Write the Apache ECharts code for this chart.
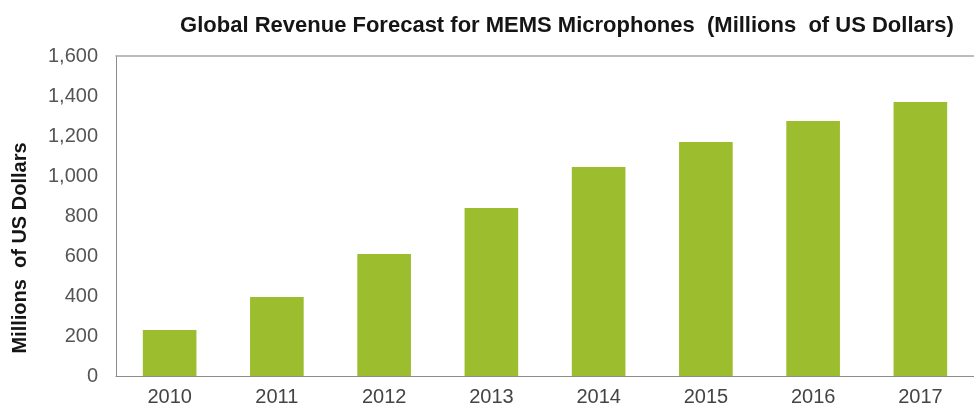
<!DOCTYPE html>
<html>
<head>
<meta charset="utf-8">
<script src="https://cdn.jsdelivr.net/npm/echarts@6/dist/echarts.min.js"></script>
<style>
html,body{margin:0;padding:0;background:#fff;}
#chart{width:974px;height:410px;}
</style>
</head>
<body>
<div id="chart"></div>
<script>
const titleText = 'Global Revenue Forecast for MEMS Microphones  (Millions  of US Dollars)';
const yAxisTitle = 'Millions  of US Dollars';
const years = ['2010','2011','2012','2013','2014','2015','2016','2017'];
const revenue = [230, 395, 610, 840, 1045, 1170, 1275, 1370];
const yMin = 0, yMax = 1600, yStep = 200;

const FONT = 'Liberation Sans, Arial, sans-serif';
const chart = echarts.init(document.getElementById('chart'), null, {renderer:'canvas'});
chart.setOption({
  animation: false,
  backgroundColor: '#fff',
  title: {
    text: titleText,
    left: 562, top: 10,
    textAlign: 'center',
    textStyle: {fontFamily: FONT, fontSize: 22, fontWeight: 'bold', color: '#151515'}
  },
  graphic: [{
    type: 'text',
    x: 20, y: 248,
    rotation: Math.PI / 2,
    style: {
      text: yAxisTitle,
      fontFamily: FONT,
      fontSize: 20, fontWeight: 'bold', fill: '#151515',
      textAlign: 'center', textVerticalAlign: 'middle'
    }
  }],
  grid: {left: 116, top: 56, width: 861, bottom: 34},
  xAxis: [{
    type: 'category', data: years,
    axisLine: {lineStyle: {color: '#8c8c8c', width: 1}},
    axisTick: {show: false},
    axisLabel: {fontFamily: FONT, fontSize: 20, color: '#444', margin: 11}
  }, {
    type: 'category', data: years, position: 'top',
    axisLine: {show: true, lineStyle: {color: '#a6a6a6', width: 1.5}},
    axisTick: {show: false},
    axisLabel: {show: false}
  }],
  yAxis: {
    type: 'value', min: yMin, max: yMax, interval: yStep,
    axisLine: {show: true, lineStyle: {color: '#8c8c8c', width: 1}},
    axisTick: {show: false},
    splitLine: {show: false},
    axisLabel: {
      fontFamily: FONT, fontSize: 20, color: '#555', margin: 18,
      formatter: v => v.toLocaleString('en-US')
    }
  },
  series: [{
    type: 'bar', data: revenue, barWidth: '50%',
    itemStyle: {color: '#9cbd2e'}
  }]
});
</script>
</body>
</html>
